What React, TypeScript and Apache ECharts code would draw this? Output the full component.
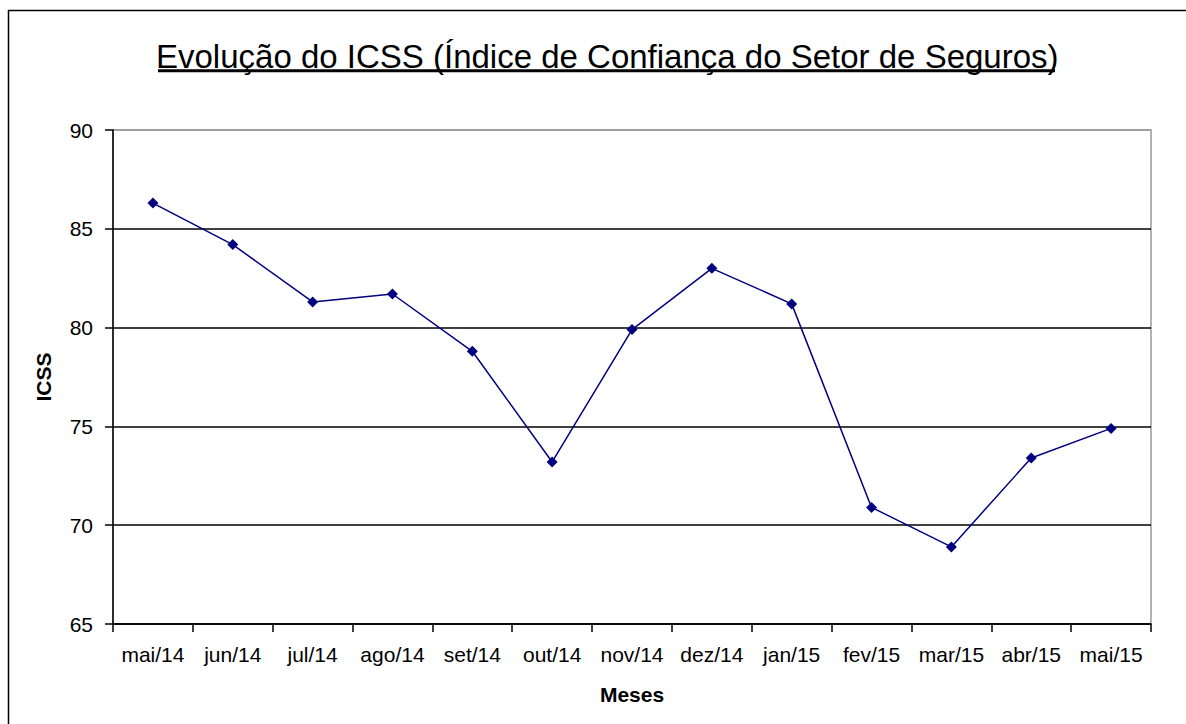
import React, { useEffect, useRef } from "react";
import * as echarts from "echarts";

const categories = ["mai/14", "jun/14", "jul/14", "ago/14", "set/14", "out/14", "nov/14", "dez/14", "jan/15", "fev/15", "mar/15", "abr/15", "mai/15"];
const icssValues = [86.3, 84.2, 81.3, 81.7, 78.8, 73.2, 79.9, 83.0, 81.2, 70.9, 68.9, 73.4, 74.9];
const titleText = "Evolução do ICSS (Índice de Confiança do Setor de Seguros)";
const xAxisName = "Meses";
const yAxisName = "ICSS";
const yMin = 65;
const yMax = 90;
const yStep = 5;

const FONT = "'Liberation Sans', Arial, sans-serif";

export default function App() {
  const ref = useRef<HTMLDivElement>(null);
  useEffect(() => {
    if (!ref.current) return;
    const chart = echarts.init(ref.current, undefined, { renderer: "svg" });
    chart.setOption({
      animation: false,
      backgroundColor: "#ffffff",
      textStyle: { fontFamily: FONT },
      title: {
        text: titleText,
        left: 156,
        top: 40,
        padding: 0,
        itemGap: 0,
        textStyle: { fontFamily: FONT, fontSize: 33, fontWeight: "normal", color: "#000" },
      },
      graphic: [
        {
          type: "rect",
          silent: true,
          shape: { x: 8.5, y: 10.5, width: 1300, height: 900 },
          style: { fill: "none", stroke: "#000", lineWidth: 1.5 },
          z: 10,
        },
        {
          type: "line",
          silent: true,
          shape: { x1: 158, y1: 70.8, x2: 1055, y2: 70.8 },
          style: { stroke: "#000", lineWidth: 3 },
          z: 10,
        },
      ],
      grid: {
        left: 113,
        top: 130,
        right: 35,
        bottom: 100,
        show: true,
        borderColor: "#9a9a9a",
        borderWidth: 1.5,
        backgroundColor: "transparent",
      },
      xAxis: {
        type: "category",
        data: categories,
        boundaryGap: true,
        name: xAxisName,
        nameLocation: "middle",
        nameGap: 60,
        nameTextStyle: { fontFamily: FONT, fontSize: 21, fontWeight: "bold", color: "#000" },
        axisLine: { show: true, lineStyle: { color: "#000", width: 1.5 } },
        axisTick: { show: true, alignWithLabel: false, length: 8, lineStyle: { color: "#000", width: 1.5 } },
        axisLabel: { fontFamily: FONT, fontSize: 21, color: "#000", margin: 20, interval: 0 },
        splitLine: { show: false },
      },
      yAxis: {
        type: "value",
        min: yMin,
        max: yMax,
        interval: yStep,
        name: yAxisName,
        nameLocation: "middle",
        nameGap: 59,
        nameRotate: 90,
        nameTextStyle: { fontFamily: FONT, fontSize: 21, fontWeight: "bold", color: "#000" },
        axisLine: { show: true, lineStyle: { color: "#000", width: 1.5 } },
        axisTick: { show: true, length: 8, lineStyle: { color: "#000", width: 1.5 } },
        axisLabel: { fontFamily: FONT, fontSize: 21, color: "#000", margin: 20 },
        splitLine: {
          show: true,
          lineStyle: { color: ["#000", "#000", "#000", "#000", "#000", "#9a9a9a"], width: 1.5 },
        },
      },
      series: [
        {
          type: "line",
          data: icssValues,
          symbol: "diamond",
          symbolSize: 11,
          showSymbol: true,
          itemStyle: { color: "#000080" },
          lineStyle: { color: "#000080", width: 1.5 },
          z: 5,
        },
      ],
    });
    return () => chart.dispose();
  }, []);
  return <div ref={ref} style={{ position: "absolute", left: 0, top: 0, width: 1186, height: 724 }} />;
}
